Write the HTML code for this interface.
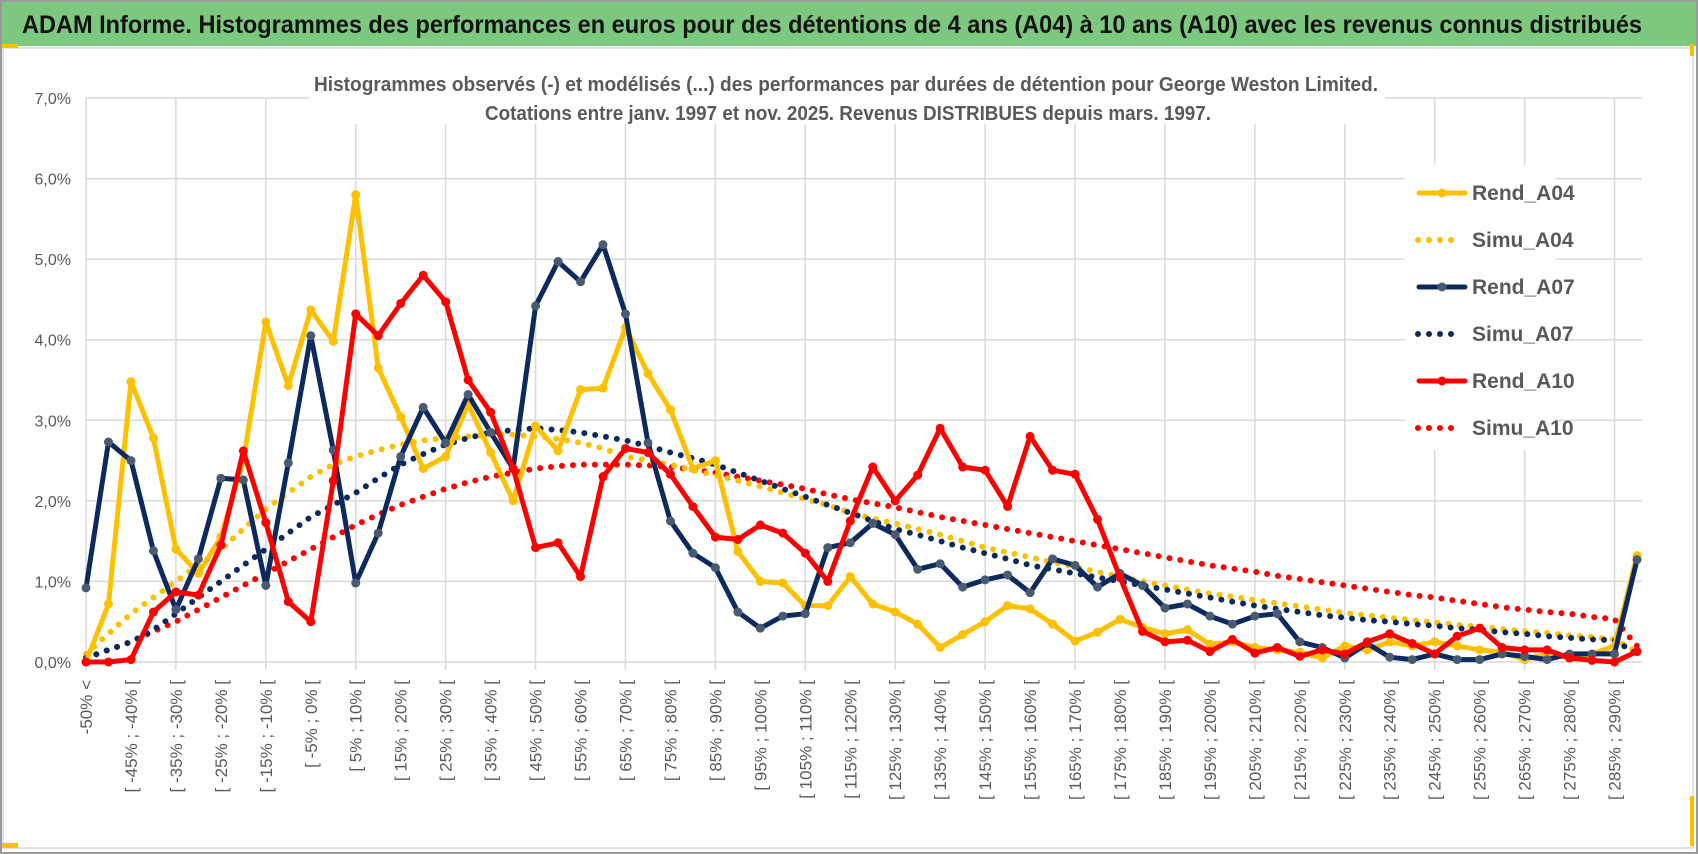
<!DOCTYPE html>
<html><head><meta charset="utf-8"><style>
html,body{margin:0;padding:0;background:#fff;}
svg{display:block;}
text{font-family:"Liberation Sans Narrow","Liberation Sans",sans-serif;}
</style></head><body>
<svg id="chart" width="1698" height="854" viewBox="0 0 1698 854" xmlns="http://www.w3.org/2000/svg">
<rect x="1" y="1" width="1696" height="852" fill="#fff" stroke="#9a9a9a" stroke-width="2"/>
<rect x="2" y="2" width="1694" height="44" fill="#7dc87f"/>
<text x="22" y="33" font-size="25" font-weight="bold" fill="#111" textLength="1620" lengthAdjust="spacingAndGlyphs">ADAM Informe. Histogrammes des performances en euros pour des détentions de 4 ans (A04) à 10 ans (A10) avec les revenus connus distribués</text>
<rect x="3" y="48" width="1690" height="800" fill="#fff" stroke="#d9d9d9" stroke-width="1.5"/>
<rect x="2" y="44" width="16" height="4" fill="#ffc000"/>
<rect x="2" y="843" width="16" height="5" fill="#ffc000"/>
<rect x="1690" y="44" width="4" height="12" fill="#ffc000"/>
<rect x="1690" y="796" width="4" height="50" fill="#ffc000"/>
<g id="grid"></g>
<rect x="310" y="60" width="1075" height="64" fill="#fff"/>
<text x="314" y="91" font-size="20" font-weight="bold" fill="#595959" textLength="1064" lengthAdjust="spacingAndGlyphs">Histogrammes observés (-) et modélisés (...) des performances par durées de détention pour George Weston Limited.</text>
<text x="485" y="120" font-size="20" font-weight="bold" fill="#595959" textLength="726" lengthAdjust="spacingAndGlyphs">Cotations entre janv. 1997 et nov. 2025. Revenus DISTRIBUES depuis mars. 1997.</text>
<g id="yaxis"></g>
<g id="xaxis"></g>
<g id="series"></g>
<g id="legend"></g>
</svg>
<script>
const yTicks=["0,0%","1,0%","2,0%","3,0%","4,0%","5,0%","6,0%","7,0%"];
const rendA04=[0.0,0.72,3.48,2.78,1.4,1.1,1.55,2.5,4.22,3.43,4.37,3.98,5.8,3.65,3.04,2.4,2.55,3.2,2.6,2.0,2.93,2.62,3.38,3.4,4.15,3.58,3.13,2.4,2.5,1.37,1.0,0.98,0.7,0.7,1.06,0.72,0.62,0.47,0.18,0.34,0.5,0.7,0.66,0.47,0.26,0.37,0.53,0.43,0.35,0.4,0.22,0.25,0.18,0.15,0.12,0.05,0.2,0.15,0.25,0.2,0.25,0.2,0.15,0.12,0.03,0.1,0.05,0.1,0.2,1.32];
const simuA04=[0.1,0.35,0.6,0.8,1.0,1.2,1.4,1.65,1.9,2.1,2.3,2.45,2.55,2.63,2.7,2.75,2.78,2.8,2.82,2.82,2.8,2.77,2.72,2.65,2.55,2.5,2.45,2.38,2.32,2.25,2.18,2.1,2.02,1.95,1.85,1.78,1.72,1.65,1.58,1.5,1.42,1.36,1.3,1.24,1.18,1.12,1.06,1.0,0.95,0.9,0.85,0.81,0.77,0.73,0.69,0.65,0.61,0.58,0.55,0.52,0.49,0.46,0.44,0.41,0.38,0.36,0.33,0.31,0.28,0.12];
const rendA07=[0.92,2.73,2.5,1.38,0.65,1.28,2.28,2.26,0.95,2.47,4.05,2.63,0.98,1.6,2.55,3.16,2.72,3.32,2.85,2.4,4.42,4.97,4.72,5.18,4.32,2.72,1.75,1.35,1.17,0.62,0.42,0.57,0.6,1.42,1.48,1.72,1.58,1.15,1.22,0.93,1.02,1.08,0.86,1.28,1.2,0.93,1.1,0.95,0.67,0.72,0.57,0.47,0.57,0.6,0.25,0.18,0.05,0.23,0.06,0.03,0.1,0.03,0.03,0.1,0.07,0.03,0.1,0.1,0.1,1.27];
const simuA07=[0.05,0.15,0.25,0.4,0.6,0.8,1.0,1.2,1.4,1.6,1.8,1.95,2.1,2.28,2.45,2.58,2.7,2.78,2.85,2.88,2.9,2.88,2.85,2.8,2.75,2.68,2.6,2.53,2.45,2.35,2.25,2.15,2.05,1.95,1.85,1.75,1.65,1.58,1.5,1.42,1.35,1.28,1.2,1.15,1.1,1.05,1.0,0.95,0.9,0.85,0.8,0.75,0.7,0.66,0.62,0.58,0.55,0.52,0.5,0.47,0.45,0.42,0.4,0.37,0.35,0.32,0.3,0.28,0.27,0.1];
const rendA10=[0.0,0.0,0.03,0.62,0.87,0.83,1.45,2.62,1.73,0.75,0.5,2.25,4.32,4.05,4.45,4.8,4.47,3.5,3.1,2.4,1.42,1.48,1.06,2.3,2.65,2.6,2.33,1.93,1.55,1.52,1.7,1.6,1.35,1.0,1.75,2.42,2.0,2.32,2.9,2.42,2.38,1.93,2.8,2.38,2.33,1.77,1.05,0.38,0.25,0.27,0.13,0.28,0.11,0.18,0.07,0.15,0.1,0.25,0.35,0.23,0.1,0.32,0.42,0.18,0.15,0.15,0.05,0.02,0.0,0.13];
const simuA10=[0.05,0.15,0.25,0.38,0.5,0.65,0.8,0.95,1.1,1.25,1.4,1.55,1.7,1.83,1.95,2.05,2.15,2.23,2.3,2.35,2.4,2.43,2.45,2.45,2.45,2.44,2.42,2.39,2.35,2.3,2.25,2.2,2.15,2.08,2.02,1.97,1.92,1.86,1.8,1.75,1.7,1.65,1.6,1.55,1.5,1.45,1.4,1.35,1.3,1.25,1.2,1.16,1.12,1.07,1.03,0.99,0.95,0.91,0.87,0.83,0.8,0.76,0.72,0.68,0.65,0.62,0.6,0.56,0.53,0.2];
const catLabels=["-50% <"];
for(let k=-50;k<295;k+=5){catLabels.push("[ "+k+"% ; "+(k+5)+"% [");}
const NS="http://www.w3.org/2000/svg";
const X0=86,X1=1637,Y0=662,Y7=98;
const nCat=rendA04.length;
function xs(i){return X0+(X1-X0)*i/(nCat-1);}
function ys(v){return Y0-(Y0-Y7)*v/7;}
function mk(tag,attrs,parent){const e=document.createElementNS(NS,tag);for(const k in attrs)e.setAttribute(k,attrs[k]);parent.appendChild(e);return e;}
const grid=document.getElementById('grid');
for(let t=0;t<yTicks.length;t++){
  const l=mk('line',{x1:X0,x2:1642,y1:ys(t),y2:ys(t),stroke:'#d9d9d9','stroke-width':1.5},grid);
  
  
}
for(let i=0;i<nCat;i+=4){
  const l=mk('line',{x1:xs(i),x2:xs(i),y1:ys(7),y2:Y0+8,stroke:'#d9d9d9','stroke-width':1.5},grid);
  
  
}
const ya=document.getElementById('yaxis');
yTicks.forEach((s,t)=>{
  const e=mk('text',{x:71,y:ys(t)+6,'text-anchor':'end','font-size':16,fill:'#595959'},ya);
  e.textContent=s;
  
  
});
const xa=document.getElementById('xaxis');
for(let i=0;i<nCat;i+=2){
  const x=xs(i)+6,y=680;
  const e=mk('text',{x:x,y:y,'text-anchor':'end','font-size':17,fill:'#595959',transform:`rotate(-90 ${x} ${y})`,'font-family':'Liberation Sans, sans-serif'},xa);
  e.textContent=catLabels[i];
  
  
}
const sg=document.getElementById('series');
function pathD(arr){return arr.map((v,i)=>(i?'L':'M')+xs(i).toFixed(1)+' '+ys(v).toFixed(1)).join(' ');}
function dotted(arr,color,name){
  const p=mk('path',{d:pathD(arr),fill:'none',stroke:color,'stroke-width':6,'stroke-linecap':'round','stroke-dasharray':'0 11'},sg);
  
  
}
function solid(arr,color,mcolor,name){
  const g=mk('g',{},sg);
  
  
  mk('path',{d:pathD(arr),fill:'none',stroke:color,'stroke-width':5,'stroke-linejoin':'round'},g);
  arr.forEach((v,i)=>{
    const c=mk('circle',{cx:xs(i),cy:ys(v),r:4.5,fill:mcolor},g);
    
    
  });
}
dotted(simuA10,'#ff0000','simu-a10-line');
dotted(simuA04,'#ffc000','simu-a04-line');
dotted(simuA07,'#0d2a5e','simu-a07-line');
solid(rendA04,'#ffc000','#ffc000','rend-a04-line');
solid(rendA07,'#0d2a5e','#4a5a70','rend-a07-line');
solid(rendA10,'#ff0000','#ff0000','rend-a10-line');
const lg=document.getElementById('legend');
mk('rect',{x:1405,y:165,width:150,height:285,fill:'#fff'},lg);
const legItems=[["Rend_A04","#ffc000","#ffc000",false],["Simu_A04","#ffc000","",true],["Rend_A07","#0d2a5e","#4a5a70",false],["Simu_A07","#0d2a5e","",true],["Rend_A10","#ff0000","#ff0000",false],["Simu_A10","#ff0000","",true]];
legItems.forEach((it,k)=>{
  const y=193+k*47;
  const g=mk('g',{},lg);
  
  
  if(it[3]){mk('line',{x1:1418,x2:1462,y1:y,y2:y,stroke:it[1],'stroke-width':6,'stroke-linecap':'round','stroke-dasharray':'0 11'},g);}
  else{mk('line',{x1:1419,x2:1465,y1:y,y2:y,stroke:it[1],'stroke-width':5,'stroke-linecap':'round'},g);mk('circle',{cx:1442,cy:y,r:4.5,fill:it[2]},g);}
  const t=mk('text',{x:1472,y:y+7,'font-size':21,'font-weight':'bold',fill:'#595959'},g);
  t.textContent=it[0];
});
</script>
</body></html>
